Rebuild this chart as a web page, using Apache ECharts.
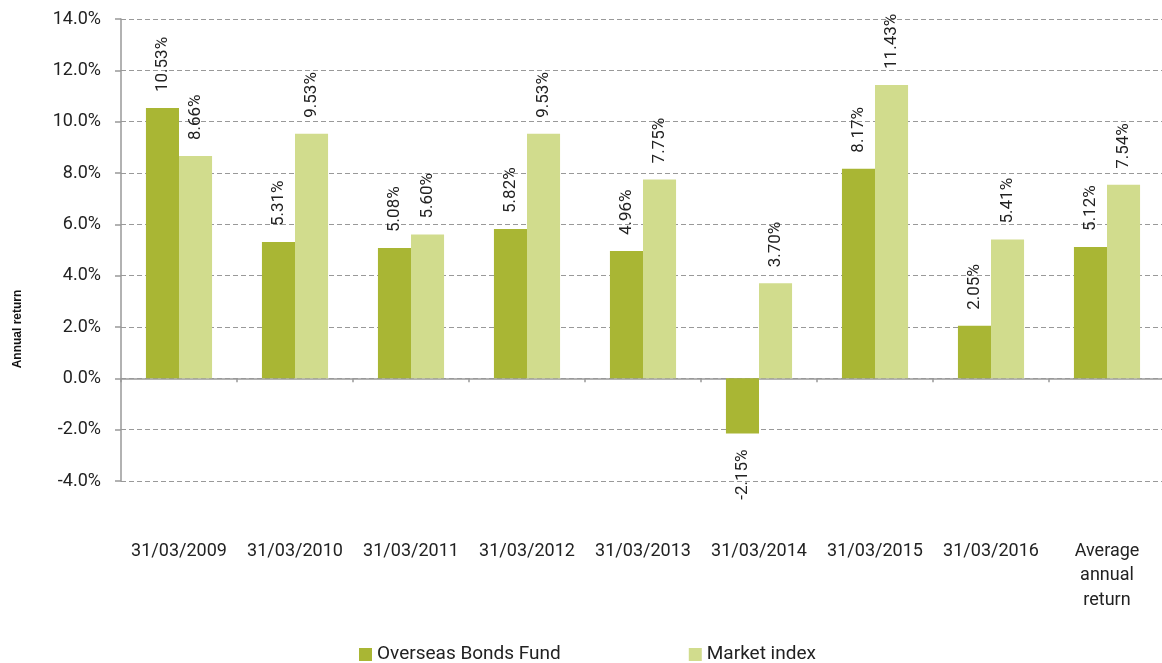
<!DOCTYPE html>
<html>
<head>
<meta charset="utf-8">
<script src="https://cdn.jsdelivr.net/npm/echarts@6/dist/echarts.min.js"></script>
<style>
  html, body { margin: 0; padding: 0; background: #fff; }
  #main { width: 1162px; height: 663px; }
</style>
</head>
<body>
<div id="main"></div>
<script>
const categories = [
  "31/03/2009", "31/03/2010", "31/03/2011", "31/03/2012", "31/03/2013",
  "31/03/2014", "31/03/2015", "31/03/2016", "Average\nannual\nreturn"
]
const fundValues = [10.53, 5.31, 5.08, 5.82, 4.96, -2.15, 8.17, 2.05, 5.12]
const indexValues = [8.66, 9.53, 5.60, 9.53, 7.75, 3.70, 11.43, 5.41, 7.54]
const seriesNames = ["Overseas Bonds Fund", "Market index"]

const font = "Roboto"
const textColor = "#222"

const toData = (vals) => vals.map(v => {
  if (v < 0) {
    return { value: v, label: { position: "bottom", align: "right" } }
  }
  return v
})

const barLabel = {
  show: true,
  position: "top",
  rotate: 90,
  align: "left",
  verticalAlign: "middle",
  distance: 16,
  fontFamily: font,
  fontSize: 17,
  color: textColor,
  formatter: p => p.value.toFixed(2) + "%"
}

const chart = echarts.init(document.getElementById("main"))
const option = {
  animation: false,
  textStyle: { fontFamily: font },
  grid: {
    left: 121, top: 19, width: 1044, height: 462,
    containLabel: false, outerBoundsMode: "none"
  },
  legend: {
    left: 359,
    top: 645,
    padding: 0,
    itemWidth: 13,
    itemHeight: 13,
    itemGap: 128,
    icon: "rect",
    textStyle: { fontFamily: font, fontSize: 19, color: textColor },
    data: seriesNames
  },
  graphic: [{
    type: "text",
    x: 18,
    y: 329,
    rotation: Math.PI / 2,
    style: {
      text: "Annual return",
      font: "bold 12px 'Liberation Sans', Arial, sans-serif",
      fill: "#111",
      align: "center",
      verticalAlign: "middle"
    }
  }],
  xAxis: {
    type: "category",
    data: categories,
    axisLine: { onZero: true, lineStyle: { color: "#999", width: 1.5 } },
    axisTick: { show: true, length: 4, lineStyle: { color: "#999", width: 1.5 } },
    axisLabel: {
      margin: 58,
      fontFamily: font,
      fontSize: 18,
      color: textColor,
      lineHeight: 24.5,
      interval: 0
    }
  },
  yAxis: {
    type: "value",
    min: -4,
    max: 14,
    interval: 2,
    axisLine: { show: true, lineStyle: { color: "#999", width: 1.5 } },
    axisTick: { show: true, length: 6, lineStyle: { color: "#999", width: 1.5 } },
    axisLabel: {
      margin: 20,
      fontFamily: font,
      fontSize: 18,
      color: textColor,
      formatter: v => v.toFixed(1) + "%"
    },
    splitLine: { show: true, lineStyle: { color: "#999", type: [5, 3], width: 1 } }
  },
  series: [
    {
      name: seriesNames[0],
      type: "bar",
      data: toData(fundValues),
      itemStyle: { color: "#A9B634" },
      barGap: "0%",
      barCategoryGap: "43%",
      label: barLabel
    },
    {
      name: seriesNames[1],
      type: "bar",
      data: toData(indexValues),
      itemStyle: { color: "#D1DC8D" },
      label: barLabel
    }
  ]
}
option && chart.setOption(option)
</script>
</body>
</html>
